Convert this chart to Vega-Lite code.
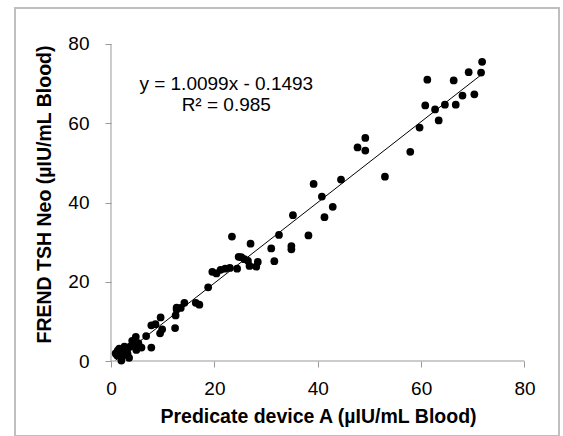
{
  "$schema": "https://vega.github.io/schema/vega-lite/v6.json",
  "autosize": "none",
  "width": 544,
  "height": 428,
  "padding": {"left": 15, "top": 8, "right": 4, "bottom": 0},
  "background": "white",
  "config": {
    "view": {"stroke": "#BFBFBF", "strokeWidth": 2},
    "font": "Liberation Sans",
    "axis": {"grid": false, "domain": false}
  },
  "datasets": {
    "points": [
      {"x": 71.8, "y": 75.5}, {"x": 71.6, "y": 72.8}, {"x": 69.2, "y": 72.9}, {"x": 70.3, "y": 67.3},
      {"x": 68.0, "y": 67.0}, {"x": 66.3, "y": 70.8}, {"x": 66.7, "y": 64.7}, {"x": 64.6, "y": 64.7},
      {"x": 62.7, "y": 63.5}, {"x": 63.4, "y": 60.7}, {"x": 60.8, "y": 64.5}, {"x": 61.2, "y": 71.0},
      {"x": 59.7, "y": 58.9}, {"x": 57.9, "y": 52.8}, {"x": 53.0, "y": 46.5}, {"x": 49.2, "y": 56.3},
      {"x": 49.2, "y": 53.1}, {"x": 47.7, "y": 53.9}, {"x": 44.5, "y": 45.8}, {"x": 42.9, "y": 38.9},
      {"x": 41.3, "y": 36.3}, {"x": 40.8, "y": 41.5}, {"x": 39.2, "y": 44.7}, {"x": 38.2, "y": 31.7},
      {"x": 35.2, "y": 36.8}, {"x": 34.9, "y": 29.0}, {"x": 34.9, "y": 28.2}, {"x": 32.5, "y": 31.8},
      {"x": 31.6, "y": 25.2}, {"x": 31.0, "y": 28.4}, {"x": 28.4, "y": 25.0}, {"x": 28.1, "y": 23.8},
      {"x": 27.0, "y": 29.6}, {"x": 26.8, "y": 24.0}, {"x": 26.5, "y": 25.3}, {"x": 25.8, "y": 25.7},
      {"x": 25.2, "y": 26.2}, {"x": 24.7, "y": 26.3}, {"x": 24.4, "y": 23.3}, {"x": 23.4, "y": 31.4},
      {"x": 23.0, "y": 23.5}, {"x": 22.1, "y": 23.3}, {"x": 21.2, "y": 23.0}, {"x": 20.4, "y": 22.1},
      {"x": 19.6, "y": 22.5}, {"x": 18.8, "y": 18.6}, {"x": 17.1, "y": 14.2}, {"x": 16.4, "y": 14.7},
      {"x": 14.2, "y": 14.7}, {"x": 13.5, "y": 13.4}, {"x": 12.7, "y": 13.0}, {"x": 12.5, "y": 11.5},
      {"x": 12.7, "y": 13.5}, {"x": 12.4, "y": 8.3}, {"x": 9.6, "y": 11.0}, {"x": 9.9, "y": 8.0},
      {"x": 9.5, "y": 7.0}, {"x": 8.6, "y": 9.3}, {"x": 7.8, "y": 9.0}, {"x": 7.8, "y": 3.4},
      {"x": 6.8, "y": 6.3}, {"x": 5.9, "y": 3.4}, {"x": 4.8, "y": 6.1}, {"x": 4.6, "y": 4.5},
      {"x": 4.9, "y": 2.8}, {"x": 4.1, "y": 5.1}, {"x": 3.7, "y": 3.6}, {"x": 3.5, "y": 0.8},
      {"x": 3.1, "y": 2.8}, {"x": 2.6, "y": 3.6}, {"x": 2.0, "y": 0.1}, {"x": 1.9, "y": 2.1},
      {"x": 1.3, "y": 2.6}, {"x": 1.2, "y": 1.4}, {"x": 0.9, "y": 1.9}, {"x": 1.6, "y": 3.1},
      {"x": 2.8, "y": 2.3}, {"x": 4.2, "y": 4.0}, {"x": 5.2, "y": 3.6}, {"x": 4.4, "y": 4.6},
      {"x": 5.3, "y": 4.5}, {"x": 2.3, "y": 1.4}, {"x": 3.2, "y": 1.8}
    ],
    "single": [{}]
  },
  "layer": [
    {
      "data": {"name": "single"},
      "mark": {"type": "rule", "color": "#999999", "strokeWidth": 1},
      "encoding": {
        "x": {"datum": 0, "type": "quantitative", "scale": {"domain": [-18.573, 86.675], "nice": false, "zero": false}},
        "x2": {"datum": 80},
        "y": {"datum": 0, "type": "quantitative", "scale": {"domain": [-18.927, 89.085], "nice": false, "zero": false}}
      }
    },
    {
      "data": {"name": "single"},
      "mark": {"type": "rule", "color": "#999999", "strokeWidth": 1},
      "encoding": {
        "x": {"datum": 0, "type": "quantitative"},
        "y": {"datum": 0, "type": "quantitative"},
        "y2": {"datum": 80}
      }
    },
    {
      "data": {"name": "points"},
      "mark": {"type": "circle", "color": "black", "opacity": 1, "size": 60},
      "encoding": {
        "x": {
          "field": "x", "type": "quantitative",
          "axis": {
            "title": "Predicate device A (µIU/mL Blood)",
            "values": [0, 20, 40, 60, 80],
            "offset": -75,
            "tickColor": "#999999", "tickSize": 6,
            "labelFontSize": 19, "labelColor": "black", "labelPadding": 12,
            "titleFontSize": 19.5, "titleFontWeight": "bold", "titleColor": "black",
            "titleX": 303, "titleY": 46, "titleBaseline": "top", "titleAnchor": "middle"
          }
        },
        "y": {
          "field": "y", "type": "quantitative",
          "axis": {
            "title": "FREND TSH Neo (µIU/mL Blood)",
            "values": [0, 20, 40, 60, 80],
            "offset": -96,
            "tickColor": "#999999", "tickSize": 6,
            "labelFontSize": 19, "labelColor": "black", "labelPadding": 16,
            "titleFontSize": 19.5, "titleFontWeight": "bold", "titleColor": "black",
            "titleX": -66.5, "titleY": 186, "titleBaseline": "middle", "titleAngle": -90, "titleAnchor": "middle"
          }
        }
      }
    },
    {
      "data": {"name": "points"},
      "transform": [{"regression": "y", "on": "x", "method": "linear"}],
      "mark": {"type": "line", "color": "black", "strokeWidth": 1},
      "encoding": {
        "x": {"field": "x", "type": "quantitative"},
        "y": {"field": "y", "type": "quantitative"}
      }
    },
    {
      "data": {"name": "single"},
      "mark": {"type": "text", "fontSize": 19, "color": "black", "align": "center", "baseline": "middle"},
      "encoding": {
        "x": {"datum": 22.3, "type": "quantitative"},
        "y": {"datum": 69.9, "type": "quantitative"},
        "text": {"value": "y = 1.0099x - 0.1493"}
      }
    },
    {
      "data": {"name": "single"},
      "mark": {"type": "text", "fontSize": 19, "color": "black", "align": "center", "baseline": "middle"},
      "encoding": {
        "x": {"datum": 22.3, "type": "quantitative"},
        "y": {"datum": 64.6, "type": "quantitative"},
        "text": {"value": "R² = 0.985"}
      }
    }
  ]
}
